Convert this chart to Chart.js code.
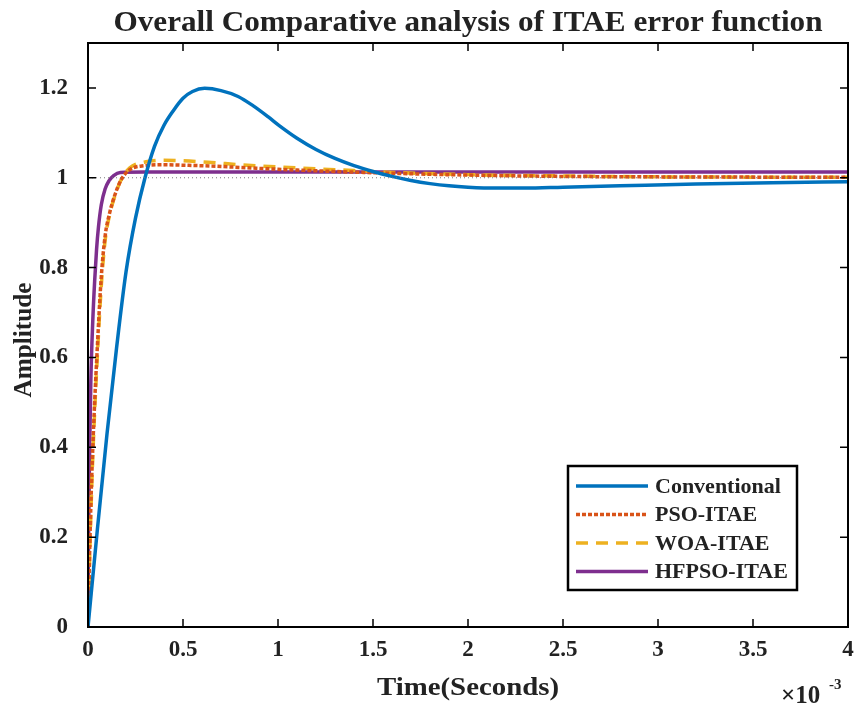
<!DOCTYPE html>
<html>
<head>
<meta charset="utf-8">
<script src="https://cdn.jsdelivr.net/npm/chart.js@4.4.1/dist/chart.umd.min.js"></script>
<style>
html,body{margin:0;padding:0;background:#fff}
#c{display:block}
</style>
</head>
<body>
<canvas id="c" width="856" height="709"></canvas>
<script>
/* ITAE step responses, time in ms (x10^-3 s) */
const tConv = [0,0.05,0.1,0.15,0.2,0.25,0.3,0.35,0.4,0.45,0.5,0.55,0.614,0.7,0.79,0.87,0.947,1.01,1.1,1.2,1.3,1.4,1.5,1.6,1.7,1.8,1.9,2.0,2.15,2.3,2.5,2.8,3.2,3.6,4.0];
const yConv = [0,0.22,0.43,0.62,0.79,0.91,1.0,1.07,1.117,1.15,1.177,1.192,1.199,1.194,1.181,1.16,1.136,1.115,1.088,1.063,1.043,1.027,1.014,1.003,0.994,0.987,0.982,0.979,0.977,0.977,0.979,0.982,0.986,0.989,0.991];
const tPso = [0,0.005,0.015,0.03,0.05,0.07,0.09,0.114,0.14,0.175,0.22,0.3,0.4,0.5,0.65,0.8,1.0,1.3,1.6,2.0,2.5,3.0,4.0];
const yPso = [0,0.1,0.27,0.45,0.63,0.78,0.87,0.922,0.96,0.996,1.018,1.027,1.029,1.028,1.026,1.023,1.019,1.014,1.01,1.006,1.003,1.002,1.001];
const tWoa = [0,0.005,0.015,0.03,0.05,0.07,0.09,0.114,0.14,0.175,0.22,0.3,0.4,0.5,0.65,0.8,1.0,1.3,1.6,2.0,2.5,3.0,4.0];
const yWoa = [0,0.09,0.25,0.43,0.61,0.76,0.86,0.918,0.958,0.996,1.022,1.035,1.039,1.038,1.034,1.029,1.024,1.018,1.012,1.007,1.004,1.002,1.001];
const tHf = [0,0.003,0.008,0.015,0.025,0.035,0.045,0.055,0.07,0.09,0.11,0.135,0.17,0.3,1.0,2.0,3.0,4.0];
const yHf = [0,0.2,0.38,0.55,0.68,0.77,0.84,0.89,0.94,0.975,0.993,1.005,1.012,1.013,1.013,1.013,1.013,1.013];
const tRef = [0,4];
const yRef = [1,1];
const xTicks = [0,0.5,1,1.5,2,2.5,3,3.5,4];
const yTicks = [0,0.2,0.4,0.6,0.8,1,1.2];
const names = ['Conventional','PSO-ITAE','WOA-ITAE','HFPSO-ITAE'];

const pts = (t,y) => t.map((v,i)=>({x:v,y:y[i]}));
const SERIF = '"Liberation Serif","Times New Roman",serif';

const ds = [
  {label:'ref', data:pts(tRef,yRef), borderColor:'#777', borderWidth:1, borderDash:[1,3]},
  {label:names[0], data:pts(tConv,yConv), borderColor:'#0072BD', borderWidth:3.5, cubicInterpolationMode:'monotone'},
  {label:names[1], data:pts(tPso,yPso), borderColor:'#D95319', borderWidth:3.5, borderDash:[4,2], cubicInterpolationMode:'monotone'},
  {label:names[2], data:pts(tWoa,yWoa), borderColor:'#EDB120', borderWidth:3.5, borderDash:[12,8], cubicInterpolationMode:'monotone'},
  {label:names[3], data:pts(tHf,yHf), borderColor:'#7E2F8E', borderWidth:3.5, cubicInterpolationMode:'monotone'}
].map(d=>Object.assign({pointRadius:0, fill:false, showLine:true}, d));

// text squeezed/stretched to a given width (reference text is slightly wide)
function wideText(c, s, x, y, px, w){
  c.font = 'bold '+px+'px '+SERIF;
  const k = w / c.measureText(s).width;
  c.save(); c.translate(x, y); c.scale(k, 1);
  c.textAlign = 'center'; c.fillText(s, 0, 0); c.restore();
}

const frame = {
  id:'frame',
  afterDraw(ch){
    const c = ch.ctx, a = ch.chartArea, xs = ch.scales.x, ys = ch.scales.y;
    const cx = (a.left+a.right)/2;
    c.save();
    // box + inward ticks
    c.strokeStyle = '#000'; c.lineWidth = 2;
    c.strokeRect(a.left, a.top, a.right-a.left, a.bottom-a.top);
    c.lineWidth = 1.5; c.beginPath();
    xTicks.forEach(v=>{ const x = xs.getPixelForValue(v);
      c.moveTo(x,a.bottom); c.lineTo(x,a.bottom-8); c.moveTo(x,a.top); c.lineTo(x,a.top+8); });
    yTicks.forEach(v=>{ const y = ys.getPixelForValue(v);
      c.moveTo(a.left,y); c.lineTo(a.left+8,y); c.moveTo(a.right,y); c.lineTo(a.right-8,y); });
    c.stroke();
    // title & axis labels
    c.fillStyle = '#222'; c.textBaseline = 'alphabetic';
    wideText(c, 'Overall Comparative analysis of ITAE error function', cx, 31, 30, 709);
    wideText(c, 'Time(Seconds)', cx, 695, 26, 182);
    c.save(); c.translate(31, 340); c.rotate(-Math.PI/2);
    wideText(c, 'Amplitude', 0, 0, 25, 115); c.restore();
    // exponent
    c.textAlign = 'left';
    c.font = 'bold 25px '+SERIF; c.fillText('\u00d710', 781, 703);
    c.font = 'bold 15px '+SERIF; c.fillText('-3', 829, 689);
    // legend
    const L = 568, T = 466, W = 229, H = 124;
    c.fillStyle = '#fff'; c.fillRect(L,T,W,H);
    c.strokeStyle = '#000'; c.lineWidth = 2.5; c.strokeRect(L,T,W,H);
    c.font = 'bold 22px '+SERIF; c.textBaseline = 'middle';
    const rows = ch.data.datasets.filter(d=>names.includes(d.label));
    rows.forEach((d,i)=>{
      const y = T + 20 + i*28.5;
      c.strokeStyle = d.borderColor; c.lineWidth = d.borderWidth;
      c.setLineDash(d.borderDash || []);
      c.beginPath(); c.moveTo(L+8,y); c.lineTo(L+80,y); c.stroke();
      c.setLineDash([]);
      c.fillStyle = '#222'; c.fillText(d.label, L+87, y+1);
    });
    c.restore();
  }
};

new Chart(document.getElementById('c'),{
  type:'scatter',
  data:{datasets:ds},
  options:{
    responsive:false, animation:false, devicePixelRatio:1,
    layout:{padding:{top:43,right:8,left:0,bottom:0}},
    plugins:{legend:{display:false}, title:{display:false}, tooltip:{enabled:false}},
    scales:{
      x:{type:'linear', min:0, max:4,
         afterBuildTicks:s=>{s.ticks = xTicks.map(v=>({value:v}));},
         afterFit:s=>{s.height = 82; s.paddingLeft = 0; s.paddingRight = 0;},
         grid:{display:false}, border:{display:false},
         ticks:{color:'#222', padding:1, maxRotation:0, callback:v=>String(v), font:{family:SERIF, weight:'bold', size:23}}},
      y:{type:'linear', min:0, max:1.3,
         afterBuildTicks:s=>{s.ticks = yTicks.map(v=>({value:v}));},
         afterFit:s=>{s.width = 88; s.paddingTop = 0; s.paddingBottom = 0;},
         grid:{display:false}, border:{display:false},
         ticks:{color:'#222', padding:12, callback:v=>String(v), font:{family:SERIF, weight:'bold', size:23}}}
    }
  },
  plugins:[frame]
});
</script>
</body>
</html>
